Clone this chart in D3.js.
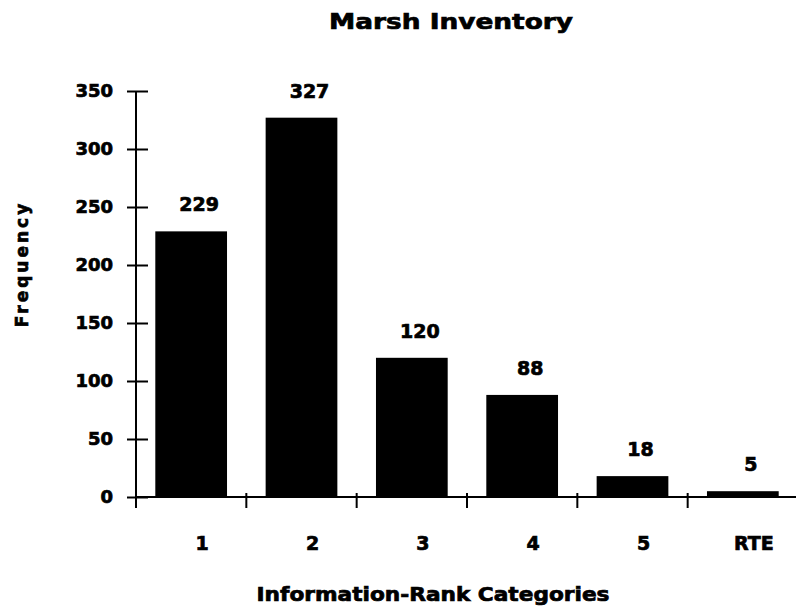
<!doctype html>
<html>
<head>
<meta charset="utf-8">
<title>Marsh Inventory</title>
<script src="https://d3js.org/d3.v7.min.js"></script>
<style type="text/css">
	body { margin: 0; background: #fff; }
	text { font-family: "DejaVu Sans", sans-serif; font-weight: bold; fill: #000; stroke: #000; stroke-width: 0.7px; }
	.title { font-size: 22px; }
	.axisTitle { font-size: 19px; }
	.tickLabel { font-size: 18px; }
	.valLabel { font-size: 19px; }
</style>
</head>
<body>
<script>
	// data
	var categories = ["1", "2", "3", "4", "5", "RTE"];
	var counts = [229, 327, 120, 88, 18, 5];
	var yTicks = [0, 50, 100, 150, 200, 250, 300, 350];

	var w = 796;
	var h = 614;

	var svg = d3.select("body")
				.append("svg")
				.attr("width", w)
				.attr("height", h);

	var x0 = 136, x1 = 798;
	var xScale = d3.scaleBand()
				   .domain(categories)
				   .range([x0, x1])
				   .paddingInner(0.35)
				   .paddingOuter(0.175);
	var step = xScale.step();

	var yScale = d3.scaleLinear()
				   .domain([0, 350])
				   .range([497, 91]);

	// bars
	svg.append("g")
		.selectAll("rect")
		.data(counts)
		.enter()
		.append("rect")
		.attr("x", function(d, i) { return xScale(categories[i]); })
		.attr("y", function(d) { return yScale(d); })
		.attr("width", xScale.bandwidth())
		.attr("height", function(d) { return yScale(0) - yScale(d); })
		.attr("fill", "#000");

	// value labels
	svg.append("g")
		.selectAll("text")
		.data(counts)
		.enter()
		.append("text")
		.attr("class", "valLabel")
		.attr("x", function(d, i) { return xScale(categories[i]) + xScale.bandwidth() / 2 + 8; })
		.attr("y", function(d) { return yScale(d) - 20; })
		.attr("text-anchor", "middle")
		.text(function(d) { return d; });

	// y axis
	var yAxis = svg.append("g")
		.attr("transform", "translate(" + x0 + ",0)")
		.call(d3.axisLeft(yScale).tickValues(yTicks).tickSize(9).tickPadding(14));
	yAxis.select(".domain").remove();
	yAxis.selectAll(".tick line").attr("x2", -9).attr("x1", 12).attr("stroke", "#000").attr("stroke-width", 2);
	yAxis.selectAll(".tick text").attr("class", "tickLabel").attr("font-size", null).attr("font-family", null);
	yAxis.append("line")
		.attr("x1", 0).attr("x2", 0)
		.attr("y1", yScale(350)).attr("y2", 508)
		.attr("stroke", "#000").attr("stroke-width", 2);

	// x axis
	var xg = svg.append("g");
	xg.append("line")
		.attr("x1", x0).attr("x2", w)
		.attr("y1", yScale(0)).attr("y2", yScale(0))
		.attr("stroke", "#000").attr("stroke-width", 2);
	xg.selectAll(".xtick")
		.data(categories.slice(1))
		.enter()
		.append("line")
		.attr("class", "xtick")
		.attr("x1", function(d) { return xScale(d) - step * 0.175; })
		.attr("x2", function(d) { return xScale(d) - step * 0.175; })
		.attr("y1", yScale(0) - 4)
		.attr("y2", 508)
		.attr("stroke", "#000").attr("stroke-width", 2);
	xg.selectAll(".xlabel")
		.data(categories)
		.enter()
		.append("text")
		.attr("class", "valLabel")
		.attr("x", function(d) { return xScale(d) + xScale.bandwidth() / 2 + 11; })
		.attr("y", 550)
		.attr("text-anchor", "middle")
		.text(function(d) { return d; });

	// titles
	svg.append("text")
		.attr("class", "title")
		.attr("x", 451)
		.attr("y", 29)
		.attr("text-anchor", "middle")
		.attr("textLength", 244)
		.attr("lengthAdjust", "spacingAndGlyphs")
		.text("Marsh Inventory");

	svg.append("text")
		.attr("class", "axisTitle")
		.attr("x", 433)
		.attr("y", 601)
		.attr("text-anchor", "middle")
		.attr("textLength", 353)
		.attr("lengthAdjust", "spacingAndGlyphs")
		.text("Information-Rank Categories");

	svg.append("text")
		.attr("class", "axisTitle")
		.attr("transform", "translate(28,264) rotate(-90)")
		.attr("text-anchor", "middle")
		.style("font-size", "17px")
		.style("letter-spacing", "3px")
		.text("Frequency");
</script>
</body>
</html>
